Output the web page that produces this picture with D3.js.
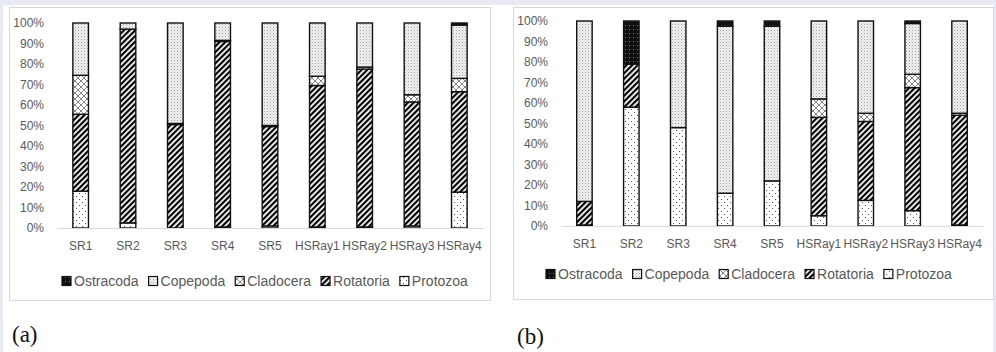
<!DOCTYPE html>
<html lang="en">
<head>
  <meta charset="utf-8">
  <title>Zooplankton composition</title>
  <script type="text/javascript" src="https://cdn.jsdelivr.net/npm/d3@7/dist/d3.min.js"></script>
  <style>
    body { margin: 0; background: #e7eaf5; }
    svg { display: block; }
    text { font-family: "Liberation Sans", Arial, sans-serif; }
  </style>
</head>
<body>
  <script type="text/javascript">

  // stations on the x axis
  var categories = ["SR1", "SR2", "SR3", "SR4", "SR5", "HSRay1", "HSRay2", "HSRay3", "HSRay4"];
  // stacking order, bottom to top
  var groups = ["Protozoa", "Rotatoria", "Cladocera", "Copepoda", "Ostracoda"];
  var legendOrder = ["Ostracoda", "Copepoda", "Cladocera", "Rotatoria", "Protozoa"];
  var yTicks = [0, 10, 20, 30, 40, 50, 60, 70, 80, 90, 100];

  // (a) percentages
  var protozoaA  = [18, 2.5, 0, 0.5, 1, 0.5, 0.5, 1, 17.5];
  var rotatoriaA = [37.5, 94.5, 50.5, 90.5, 48.5, 69, 77, 60.5, 49];
  var cladoceraA = [19, 0, 0.5, 0.5, 0.5, 4.5, 1, 3.5, 6.5];
  var copepodaA  = [25.5, 3, 49, 8.5, 50, 26, 21.5, 35, 26];
  var ostracodaA = [0, 0, 0, 0, 0, 0, 0, 0, 1];

  // (b) percentages
  var protozoaB  = [0.5, 58, 48, 16, 22, 5, 12.5, 7.5, 0.5];
  var rotatoriaB = [11.5, 21, 0, 0, 0, 48, 38.5, 60, 53.5];
  var cladoceraB = [0, 0, 0, 0, 0, 9, 4, 6.5, 1];
  var copepodaB  = [88, 0, 52, 81.5, 75.5, 38, 45, 24.8, 45];
  var ostracodaB = [0, 21, 0, 2.5, 2.5, 0, 0, 1.2, 0];

  function table(p, r, cl, co, os) {
    return categories.map(function(c, i) {
      return {cat: c, Protozoa: p[i], Rotatoria: r[i], Cladocera: cl[i], Copepoda: co[i], Ostracoda: os[i]};
    });
  }

  var panels = [
    {tag: "(a)", data: table(protozoaA, rotatoriaA, cladoceraA, copepodaA, ostracodaA),
     box: [9.5, 7.5, 481, 293], plot: [57, 483, 23, 228], legendX: 62, legendY: 281, tagX: 12, tagY: 342},
    {tag: "(b)", data: table(protozoaB, rotatoriaB, cladoceraB, copepodaB, ostracodaB),
     box: [513.5, 7.5, 480, 292], plot: [561, 983, 21, 226], legendX: 546, legendY: 274, tagX: 517, tagY: 344}
  ];

  var width = 996, height = 352;
  var svg = d3.select("body").append("svg")
    .attr("width", width)
    .attr("height", height);

  // white page area
  svg.append("rect")
    .attr("x", 3).attr("y", 5)
    .attr("width", 990).attr("height", height - 5)
    .attr("fill", "#fff");

  // fill patterns (black & white, Excel style)
  var defs = svg.append("defs");

  var pz = defs.append("pattern").attr("id", "p-Protozoa")
    .attr("patternUnits", "userSpaceOnUse").attr("width", 6).attr("height", 6);
  pz.append("rect").attr("width", 6).attr("height", 6).attr("fill", "#fff");
  pz.append("rect").attr("x", 1).attr("y", 1).attr("width", 1).attr("height", 1).attr("fill", "#555");
  pz.append("rect").attr("x", 4).attr("y", 4).attr("width", 1).attr("height", 1).attr("fill", "#555");

  var rt = defs.append("pattern").attr("id", "p-Rotatoria")
    .attr("patternUnits", "userSpaceOnUse").attr("width", 4).attr("height", 4)
    .attr("patternTransform", "rotate(45)");
  rt.append("rect").attr("width", 4).attr("height", 4).attr("fill", "#fff");
  rt.append("rect").attr("width", 2.2).attr("height", 4).attr("fill", "#000");

  var cl = defs.append("pattern").attr("id", "p-Cladocera")
    .attr("patternUnits", "userSpaceOnUse").attr("width", 6).attr("height", 6);
  cl.append("rect").attr("width", 6).attr("height", 6).attr("fill", "#fff");
  cl.append("path").attr("d", "M0,6 L6,0 M0,0 L6,6")
    .attr("stroke", "#666").attr("stroke-width", 0.8);

  var cp = defs.append("pattern").attr("id", "p-Copepoda")
    .attr("patternUnits", "userSpaceOnUse").attr("width", 3).attr("height", 3);
  cp.append("rect").attr("width", 3).attr("height", 3).attr("fill", "#f4f4f4");
  cp.append("rect").attr("x", 0).attr("y", 0).attr("width", 1).attr("height", 1).attr("fill", "#9a9a9a");
  cp.append("rect").attr("x", 1.5).attr("y", 1.5).attr("width", 1).attr("height", 1).attr("fill", "#b5b5b5");

  var os = defs.append("pattern").attr("id", "p-Ostracoda")
    .attr("patternUnits", "userSpaceOnUse").attr("width", 4).attr("height", 4);
  os.append("rect").attr("width", 4).attr("height", 4).attr("fill", "#111");
  os.append("rect").attr("x", 1).attr("y", 1).attr("width", 1).attr("height", 1).attr("fill", "#777");

  var stack = d3.stack().keys(groups).value(function(d, k) { return d[k] / 100; });

  panels.forEach(function(p) {
    var g = svg.append("g");

    g.append("rect")
      .attr("x", p.box[0]).attr("y", p.box[1])
      .attr("width", p.box[2]).attr("height", p.box[3])
      .attr("fill", "#fff").attr("stroke", "#d9d9d9");

    var x = d3.scaleBand().domain(categories)
      .range([p.plot[0], p.plot[1]])
      .paddingInner(0.67).paddingOuter(0.335);
    var y = d3.scaleLinear().domain([0, 1]).range([p.plot[3], p.plot[2]]);

    // y axis labels only
    var ya = g.append("g")
      .attr("transform", "translate(" + p.plot[0] + ",0)")
      .call(d3.axisLeft(y).tickValues(yTicks.map(function(t) { return t / 100; }))
        .tickFormat(function(d) { return Math.round(d * 100) + "%"; })
        .tickSize(0).tickPadding(13));
    ya.select(".domain").remove();
    ya.selectAll("text").attr("fill", "#595959").style("font-size", "12px");

    // bars
    var series = stack(p.data);
    g.selectAll("g.layer").data(series).enter()
      .append("g").attr("class", "layer")
      .attr("fill", function(d) { return "url(#p-" + d.key + ")"; })
      .selectAll("rect")
      .data(function(d) { return d.filter(function(s) { return s[1] - s[0] > 0; }); })
      .enter().append("rect")
      .attr("x", function(d) { return x(d.data.cat); })
      .attr("width", x.bandwidth())
      .attr("y", function(d) { return y(d[1]); })
      .attr("height", function(d) { return y(d[0]) - y(d[1]); })
      .attr("stroke", "#111")
      .attr("stroke-width", 1.4);

    // x axis
    var xa = g.append("g")
      .attr("transform", "translate(0," + p.plot[3] + ")")
      .call(d3.axisBottom(x).tickSize(0).tickPadding(13));
    xa.select(".domain").attr("stroke", "#d9d9d9").attr("stroke-width", 1.2);
    xa.selectAll("text").attr("fill", "#595959").style("font-size", "12px");

    // legend
    var lx = p.legendX;
    legendOrder.forEach(function(k) {
      g.append("rect")
        .attr("x", lx).attr("y", p.legendY - 4.5)
        .attr("width", 9).attr("height", 9)
        .attr("fill", "url(#p-" + k + ")")
        .attr("stroke", "#111").attr("stroke-width", 1.2);
      var t = g.append("text")
        .attr("x", lx + 12).attr("y", p.legendY)
        .attr("dy", "0.35em")
        .attr("fill", "#595959")
        .style("font-size", "14px")
        .text(k);
      lx += 12 + t.node().getComputedTextLength() + 10;
    });

    // panel tag
    g.append("text")
      .attr("x", p.tagX).attr("y", p.tagY)
      .attr("fill", "#111")
      .style("font-family", "'Liberation Serif', 'Times New Roman', serif")
      .style("font-size", "23px")
      .text(p.tag);
  });

  </script>
</body>
</html>
